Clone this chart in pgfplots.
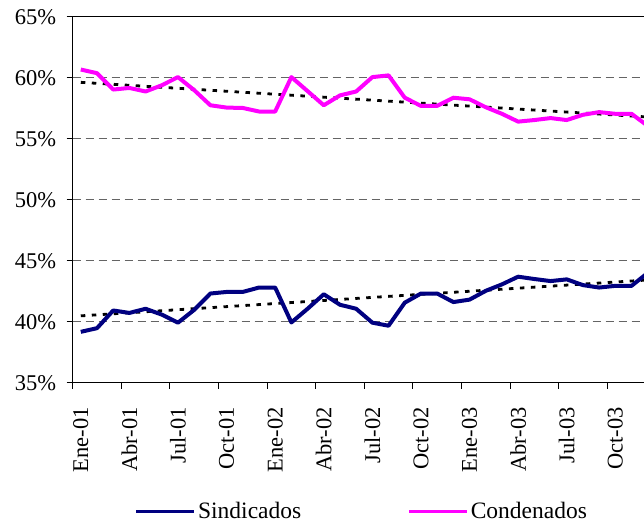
\documentclass[border=0pt]{standalone}
\usepackage{fontspec}
\setmainfont{Liberation Serif}
\usepackage{pgfplots}
\pgfplotsset{compat=1.18}
\definecolor{sind}{RGB}{0,0,128}
\definecolor{cond}{RGB}{255,0,255}
\definecolor{gridc}{RGB}{100,100,100}
\begin{document}
\begin{tikzpicture}
\begin{axis}[
  at={(0,0)}, anchor=south west,
  scale only axis, width=571.3pt, height=366pt,
  xmin=-0.5, xmax=34.77, ymin=35, ymax=65,
  axis x line*=bottom, axis y line*=left,
  axis line style={line width=1pt, -},
  tick align=outside, major tick length=6pt,
  every tick/.style={black, line width=1pt},
  ytick={35,40,...,65},
  yticklabels={35\%,40\%,45\%,50\%,55\%,60\%,65\%},
  yticklabel style={xshift=-7pt},
  xtick={-0.5,2.5,...,32.5}, xticklabels={},
  extra x ticks={0,3,...,33},
  extra x tick labels={Ene-01,Abr-01,Jul-01,Oct-01,Ene-02,Abr-02,Jul-02,Oct-02,Ene-03,Abr-03,Jul-03,Oct-03},
  extra x tick style={major tick length=0pt, xticklabel style={rotate=90, anchor=east, xshift=-21pt}},
  tick label style={font=\fontsize{22.5}{26}\selectfont},
  ymajorgrids, grid style={gridc, line width=1pt, dash pattern=on 8pt off 5pt},
  legend style={at={(0.506,-0.352)}, anchor=center, draw=none, fill=none,
    legend columns=2, font=\fontsize{23.5}{27}\selectfont,
    nodes={inner ysep=0.5pt},
    /tikz/every even column/.append style={column sep=104pt}},
  legend image code/.code={\draw[#1, line width=3.5pt] (0pt,0pt) -- (58pt,0pt);},
  clip=true,
]
\addplot[black, line width=2.8pt, dash pattern=on 4.5pt off 6.5pt, forget plot] coordinates {(0,40.48) (35,43.42)};
\addplot[black, line width=2.8pt, dash pattern=on 4.5pt off 6.5pt, forget plot] coordinates {(0,59.62) (35,56.78)};
\addplot[sind, line width=4pt, line join=round] coordinates {
(0,39.17) (1,39.47) (2,40.92) (3,40.72) (4,41.06) (5,40.58) (6,39.92) (7,40.97) (8,42.31) (9,42.44) (10,42.44) (11,42.80)
(12,42.80) (13,39.94) (14,41.06) (15,42.25) (16,41.39) (17,41.06) (18,39.92) (19,39.67) (20,41.56) (21,42.31) (22,42.31) (23,41.61)
(24,41.81) (25,42.53) (26,43.06) (27,43.69) (28,43.50) (29,43.33) (30,43.47) (31,43.00) (32,42.80) (33,42.94) (34,42.94) (35,44.00)};
\addlegendentry{Sindicados}
\addplot[cond, line width=4pt, line join=round] coordinates {
(0,60.67) (1,60.37) (2,59.03) (3,59.16) (4,58.87) (5,59.38) (6,60.05) (7,58.98) (8,57.74) (9,57.55) (10,57.52) (11,57.23)
(12,57.23) (13,60.05) (14,58.90) (15,57.74) (16,58.55) (17,58.87) (18,60.05) (19,60.19) (20,58.36) (21,57.69) (22,57.69) (23,58.36)
(24,58.23) (25,57.58) (26,57.04) (27,56.40) (28,56.53) (29,56.69) (30,56.53) (31,56.96) (32,57.18) (33,57.04) (34,57.04) (35,56.05)};
\addlegendentry{Condenados}
\draw[black, line width=1pt] (rel axis cs:0,1) -- (rel axis cs:1,1);
\end{axis}
\pgfresetboundingbox
\path[use as bounding box] (-72.7pt,-140.3pt) rectangle (571.3pt,382.7pt);
\end{tikzpicture}
\end{document}
